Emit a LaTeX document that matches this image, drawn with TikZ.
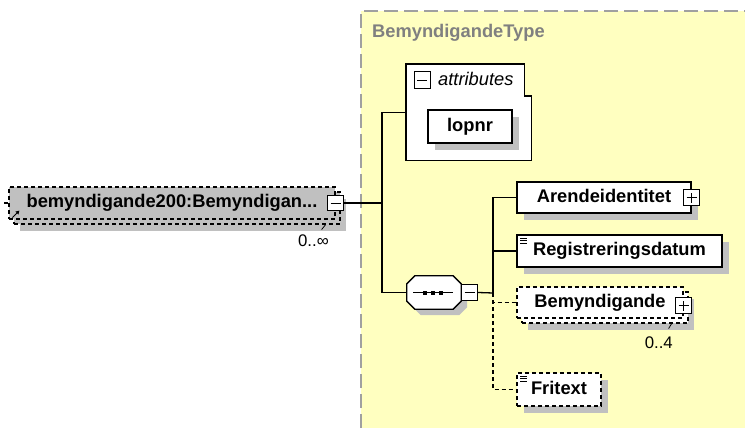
\documentclass[tikz,border=0pt]{standalone}
\usepackage{fontspec}
\newfontfamily\xsfont{Liberation Sans}
\usepackage{tikz}
\usetikzlibrary{arrows.meta,shadows,positioning}
\usepackage{xcolor}
\definecolor{typeyellow}{RGB}{255,255,192}
\definecolor{shadegray}{RGB}{192,192,192}
\definecolor{typegray}{RGB}{128,128,128}
\definecolor{typedash}{RGB}{160,160,160}

\tikzset{
  conn/.style={line width=1.3pt},
  optconn/.style={conn,dash pattern=on 4pt off 3pt},
  box/.style={draw,fill=white,line width=1.2pt,inner sep=0pt,minimum height=31,
    text height=13.2pt,text depth=3.8pt,font=\xsfont\bfseries\fontsize{18.3}{20}\selectfont},
  elem/.style={box,general shadow={fill=shadegray,shadow xshift=7pt,shadow yshift=-7pt}},
  optelem/.style={elem,dash pattern=on 4pt off 3pt},
  multelem/.style={box,dash pattern=on 4pt off 3pt,
    general shadow={fill=shadegray,shadow xshift=11pt,shadow yshift=-12pt},
    general shadow={draw,fill=#1,line width=1.2pt,dash pattern=on 4pt off 3pt,shadow xshift=5pt,shadow yshift=-5pt}},
  docicon/.style={path picture={
    \foreach \dy in {3.3,5.7,8}
      \draw[solid,line width=0.7pt] ([xshift=3pt,yshift=-\dy pt]path picture bounding box.north west) -- ++(7pt,0pt);}},
  btn/.style={draw,solid,fill=white,line width=1pt,inner sep=0pt,minimum width=16,minimum height=16},
  minusbtn/.style={btn,path picture={
    \draw[solid,line width=1pt] ([xshift=3pt]path picture bounding box.west) -- ([xshift=-3pt]path picture bounding box.east);}},
  plusbtn/.style={btn,path picture={
    \draw[solid,line width=1pt] ([xshift=3pt]path picture bounding box.west) -- ([xshift=-3pt]path picture bounding box.east);
    \draw[solid,line width=1pt] ([yshift=3pt]path picture bounding box.south) -- ([yshift=-3pt]path picture bounding box.north);}},
  seqbox/.style={inner sep=0pt,minimum width=54,minimum height=33},
  mult/.style={font=\xsfont\fontsize{16.8}{18}\selectfont,inner sep=0pt},
  typelabel/.style={font=\xsfont\bfseries\fontsize{18.3}{20}\selectfont,text=typegray,inner sep=0pt},
  attrlabel/.style={font=\xsfont\itshape\fontsize{18.3}{20}\selectfont,inner sep=0pt}
}

\begin{document}
\begin{tikzpicture}[x=1pt,y=-1pt]
\useasboundingbox (0,0) rectangle (745,428);
% complex type
\fill[typeyellow] (361,11) rectangle (745,428);
\draw[typedash,line width=1.5pt,dash pattern=on 14pt off 6pt] (361,428) -- (361,11) -- (745,11);
\node[typelabel,anchor=base west] (typename) at (372,38) {BemyndigandeType};

% attributes
\node[minimum width=125,minimum height=96,inner sep=0pt,anchor=north west] (attrbox) at (406,64) {};
\draw[fill=white,line width=1.2pt] (attrbox.north west) -- ([xshift=-7pt]attrbox.north east)
  -- ([xshift=-7pt,yshift=-32pt]attrbox.north east) -- ([yshift=-32pt]attrbox.north east)
  -- (attrbox.south east) -- (attrbox.south west) -- cycle;
\node[minusbtn,minimum height=17] (attrbtn) at (422,80.5) {};
\node[attrlabel,anchor=base west] (attrname) at (438,86) {attributes};
\node[elem,minimum width=84,minimum height=33] (lopnr) at (470,126.5) {lopnr};

% main element
\node[multelem=shadegray,fill=shadegray,minimum width=326,minimum height=32] (main) at (172,203) {bemyndigande200:Bemyndigan...};
\node[minusbtn,minimum height=15] (mainbtn) at (main.east) {};
\coordinate (stub) at (4,203);
\draw[conn] (stub) -- (main.west);
\draw[line width=1pt,-{Triangle[length=3.5pt,width=4pt]}] ([xshift=4pt,yshift=2pt]main.south west) -- ++(7pt,7pt);
\draw[line width=0.8pt] ([xshift=-10pt,yshift=-5pt]main.south east) -- ++(-4pt,-5pt);
\node[mult,anchor=base east] (mainmult) at (329,246) {0..∞};

% sequence
\node[seqbox] (seq) at (434,292.5) {};
\draw[conn,fill=white,general shadow={fill=shadegray,shadow xshift=6pt,shadow yshift=-6pt}]
  ([xshift=8pt]seq.north west) -- ([xshift=-8pt]seq.north east) -- ([yshift=-8pt]seq.north east)
  -- ([yshift=8pt]seq.south east) -- ([xshift=-8pt]seq.south east) -- ([xshift=8pt]seq.south west)
  -- ([yshift=8pt]seq.south west) -- ([yshift=-8pt]seq.north west) -- cycle;
\draw[line width=1pt] ([xshift=-21pt]seq.center) -- ([xshift=19pt]seq.center);
\foreach \dx in {-9,-1,7}
  \fill ([xshift=\dx pt]seq.center) +(-2pt,-2pt) rectangle +(2pt,2pt);
\node[minusbtn,anchor=west] (seqbtn) at (seq.east) {};
\coordinate (tbus) at (382,203);
\coordinate (cbus) at (493,293);
\draw[conn] (mainbtn.east) -- (tbus);
\draw[conn] (attrbox.west) -| (tbus) |- (seq.west);
\draw[conn] (seqbtn.east) -- (cbus);

% children
\node[elem,minimum width=174] (arende) at (604,197.5) {Arendeidentitet};
\node[plusbtn] (arendebtn) at (arende.east) {};
\node[elem,docicon,minimum width=205,minimum height=32] (regdat) at (619.5,251) {Registreringsdatum};
\node[multelem=white,minimum width=166] (bemynd) at (600,302.5) {Bemyndigande};
\node[plusbtn] (bemyndbtn) at ([yshift=-3pt]bemynd.east) {};
\draw[line width=0.8pt] ([xshift=-12pt,yshift=-5pt]bemynd.south east) -- ++(-3pt,-5pt);
\node[mult,anchor=base east] (bemyndmult) at (673,348) {0..4};
\node[optelem,docicon,minimum width=84,minimum height=33] (fritext) at (559,389.5) {Fritext};

\draw[conn] (cbus) |- (arende.west);
\draw[conn] (cbus) |- (regdat.west);
\draw[optconn] (cbus) |- (bemynd.west);
\draw[optconn] (cbus) |- (fritext.west);
\end{tikzpicture}
\end{document}
